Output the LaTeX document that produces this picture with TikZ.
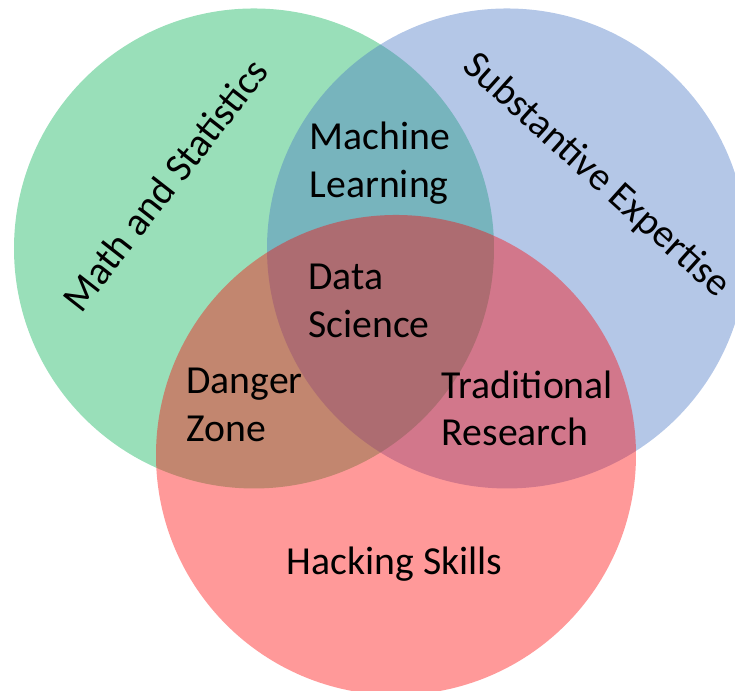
\documentclass[tikz,border=0pt]{standalone}
\usepackage{fontspec}
\setmainfont{Carlito}
\definecolor{mathgreen}{HTML}{00B050}
\definecolor{expertblue}{HTML}{4472C4}
\definecolor{hackred}{HTML}{FF0000}

\begin{document}
\begin{tikzpicture}[set/.style={fill opacity=0.4},
    lbl/.style={font=\fontsize{11.3}{13.5}\selectfont, align=left, inner sep=0pt}]
    \clip (0,0) rectangle (7.35,6.91);
    % the three sets, red one on top
    \fill[set, mathgreen] (2.54,4.425) circle (2.4);
    \fill[set, expertblue] (5.07,4.425) circle (2.4);
    \fill[set, hackred] (3.96,2.36) circle (2.4);

    % names of the sets
    \node[lbl, rotate=52] (math) at (1.65,5.06) {Math and Statistics};
    \node[lbl, rotate=-42] (expert) at (5.96,5.15) {Substantive Expertise};
    \node[lbl, anchor=base] (hack) at (3.945,1.16) {Hacking Skills};

    % the overlaps
    \node[lbl] (ml) at (3.80,5.28) {Machine\\Learning};
    \node[lbl] (ds) at (3.69,3.90) {Data\\Science};
    \node[lbl] (danger) at (2.445,2.86) {Danger\\Zone};
    \node[lbl] (trad) at (5.275,2.825) {Traditional\\Research};
\end{tikzpicture}
\end{document}
